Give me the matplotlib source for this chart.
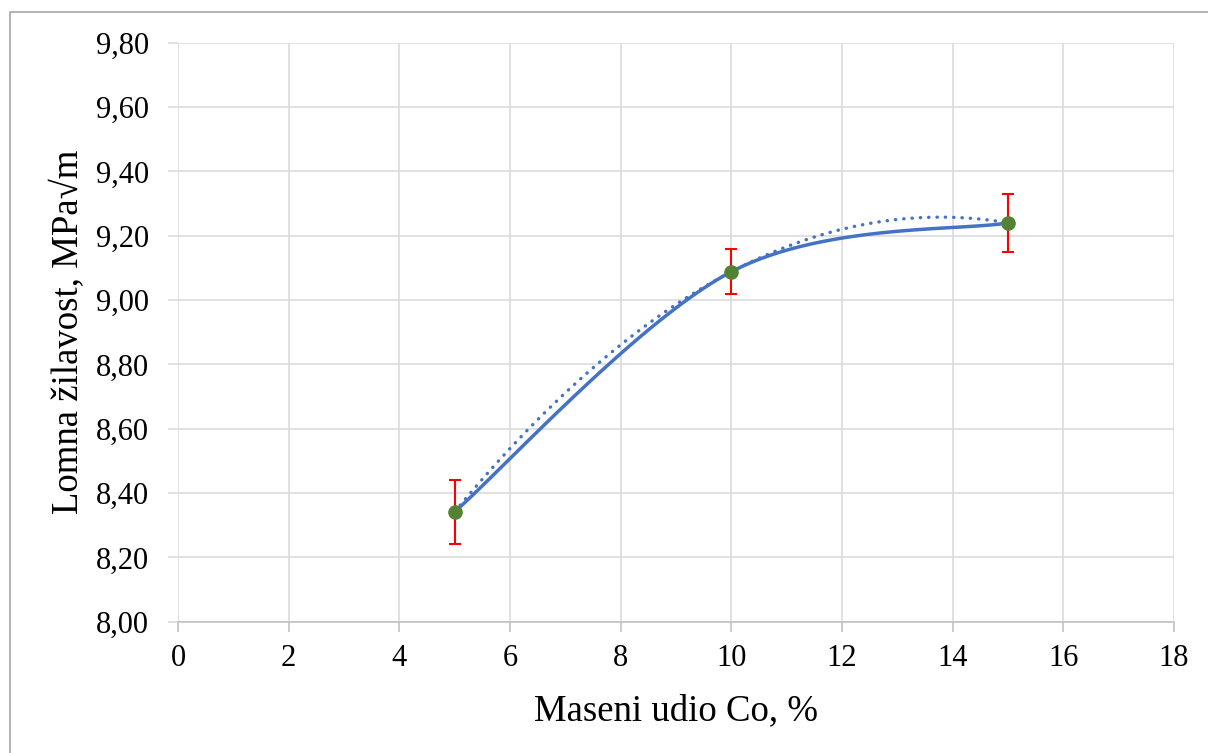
import numpy as np
import matplotlib
matplotlib.use("Agg")
import matplotlib.pyplot as plt
from matplotlib.patches import Rectangle

# data
co = [5, 10, 15]
kic = [8.342, 9.088, 9.240]
err = [0.10, 0.07, 0.09]

x_ticks = [0, 2, 4, 6, 8, 10, 12, 14, 16, 18]
y_ticks = [8.0, 8.2, 8.4, 8.6, 8.8, 9.0, 9.2, 9.4, 9.6, 9.8]


def smooth_line(xs, ys, n=60):
    '''Excel-style smoothed line (Bezier with Catmull-Rom tangents)'''
    p = np.column_stack([xs, ys]).astype(float)
    out = []
    for i in range(len(p) - 1):
        p0 = p[i - 1] if i > 0 else p[i]
        p3 = p[i + 2] if i + 2 < len(p) else p[i + 1]
        c1 = p[i] + (p[i + 1] - p0) / 6
        c2 = p[i + 1] - (p3 - p[i]) / 6
        t = np.linspace(0, 1, n)[:, None]
        seg = ((1 - t) ** 3 * p[i] + 3 * (1 - t) ** 2 * t * c1
               + 3 * (1 - t) * t ** 2 * c2 + t ** 3 * p[i + 1])
        out.append(seg)
    out = np.vstack(out)
    return out[:, 0], out[:, 1]


plt.rcParams['font.family'] = ['Liberation Serif', 'DejaVu Serif']

fig = plt.figure(figsize=(12.08, 7.53), dpi=100)
ax = fig.add_axes([0.1474, 0.1744, 0.8245, 0.7689])

# chart frame
fig.patches.append(Rectangle((10 / 1208, -0.1), 1.2, 1 - 12 / 753 + 0.1,
                             transform=fig.transFigure, fill=False,
                             edgecolor='#A6A6A6', lw=1.2))

blue = '#4472C4'
sx, sy = smooth_line(co, kic)
ax.plot(sx, sy, color=blue, lw=2.5, solid_capstyle='round', zorder=3)

# polynomial trendline (2nd order)
coef = np.polyfit(co, kic, 2)
tx = np.linspace(co[0], co[-1], 300)
ax.plot(tx, np.polyval(coef, tx), color=blue, lw=2.4, ls=(0, (0.1, 2.4)),
        dash_capstyle='round', zorder=3)

ax.errorbar(co, kic, yerr=err, fmt='none', ecolor='#FF0000', elinewidth=1.5,
            capsize=4.4, capthick=1.5, zorder=4)
ax.plot(co, kic, 'o', color='#548235', ms=9.5, zorder=5)

ax.set_xlim(0, 18)
ax.set_ylim(8.0, 9.8)
ax.set_xticks(x_ticks)
ax.set_yticks(y_ticks)
ax.set_yticklabels([f"{v:.2f}".replace('.', ',') for v in y_ticks])
ax.grid(True, color='#D9D9D9', lw=1.1)
ax.set_axisbelow(True)
for s in ['top', 'right', 'left']:
    ax.spines[s].set_visible(False)
ax.spines['bottom'].set_color('#BFBFBF')
ax.spines['bottom'].set_linewidth(1.1)
ax.tick_params(axis='x', length=7, width=1.1, color='#BFBFBF', pad=9,
               labelsize=22)
ax.tick_params(axis='y', length=7, width=1.1, color='#D9D9D9', pad=14,
               labelsize=22)

ax.set_xlabel('Maseni udio Co, %', fontsize=26.5, labelpad=15)
ax.set_ylabel('Lomna žilavost, MPa√m', fontsize=26.5, labelpad=7)

fig.savefig('out.png', dpi=100)
